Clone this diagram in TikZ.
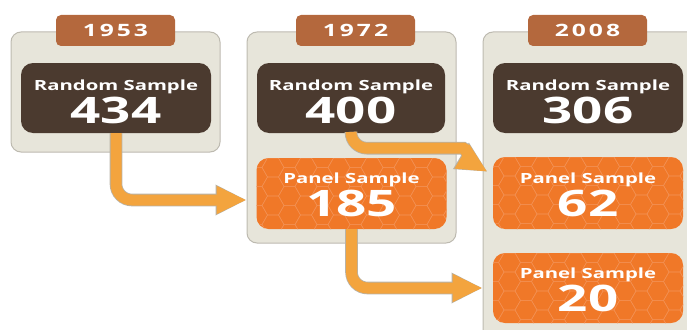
\documentclass[tikz,border=0pt]{standalone}
\usepackage{fontspec}
\setmainfont{Open Sans}
\usepackage{graphicx}
\usetikzlibrary{arrows.meta,calc}

\definecolor{eraback}{HTML}{E7E5DA}
\definecolor{eraline}{HTML}{BDBAB0}
\definecolor{yearcol}{HTML}{B4683D}
\definecolor{randcol}{HTML}{4B3A2F}
\definecolor{panelcol}{HTML}{F07828}
\definecolor{hexcol}{HTML}{F39052}
\definecolor{flowcol}{HTML}{F3A43E}
\definecolor{flowedge}{HTML}{B8B2A6}

\newcommand{\wide}[1]{\scalebox{1.45}[1]{#1}}
\newcommand{\lowered}[2]{\raisebox{-#1}[\height][\depth]{#2}}
\newcommand{\boxtext}[3][3.5pt]{\wide{\lowered{#1}{\fontsize{14}{14}\selectfont #2}}\\[2pt]\wide{\lowered{#1}{\fontsize{36.5}{36.5}\selectfont #3}}}

\begin{document}
\begin{tikzpicture}[x=1pt,y=-1pt,
	era/.style={draw=eraline,fill=eraback,line width=1pt,rounded corners=10pt,inner sep=0pt},
	yeartab/.style={fill=yearcol,rounded corners=5pt,minimum width=119pt,minimum height=31pt,inner sep=0pt,text=white,font=\bfseries\fontsize{17}{17}\selectfont\addfontfeature{LetterSpace=12}},
	randbox/.style={fill=randcol,rounded corners=12pt,minimum width=190pt,minimum height=70pt,inner sep=0pt,text=white,align=center,font=\bfseries},
	panelbox/.style={randbox,fill=panelcol,path picture={
		\coordinate (hw) at (path picture bounding box.north west);
		\foreach \i in {0,...,12} \foreach \j in {-1,...,4} {
			\pgfmathsetmacro{\hx}{\i*16.5}
			\pgfmathsetmacro{\hy}{\j*19+mod(\i,2)*9.5}
			\draw[hexcol,line width=0.5pt,sharp corners] ($(hw)+(\hx,\hy)$)
				+(0:11pt) -- +(60:11pt) -- +(120:11pt) -- +(180:11pt) -- +(240:11pt) -- +(300:11pt) -- cycle;
		}
	}},
	flow/.style={draw=flowcol,line width=11pt,rounded corners=16pt,-{Triangle[length=30pt,width=26pt]},
		preaction={draw=flowedge,line width=12.6pt,-{Triangle[length=31pt,width=28.5pt]}}}]
	\useasboundingbox (0,0) rectangle (687,329);
	\clip (0,0) rectangle (687,329);

	\node[era,minimum width=209pt,minimum height=120pt] (c1) at (115.5,92) {};
	\node[era,minimum width=209pt,minimum height=211pt] (c2) at (351.5,137.5) {};
	\node[era,minimum width=217pt,minimum height=313pt] (c3) at (591.5,188.5) {};

	\node[yeartab] (y1) at (115.5,30.5) {\wide{1953}};
	\node[yeartab] (y2) at (355.5,30.5) {\wide{1972}};
	\node[yeartab] (y3) at (587.5,30.5) {\wide{2008}};

	\node[randbox] (r1) at (116,98) {\boxtext{Random Sample}{434}};
	\node[randbox,minimum width=188pt] (r2) at (351,98) {\boxtext{Random Sample}{400}};
	\node[randbox] (r3) at (588,98) {\boxtext{Random Sample}{306}};

	\node[panelbox,minimum height=71pt] (p2) at (351.5,193.5) {\boxtext[1.5pt]{Panel Sample}{185}};
	\node[panelbox,minimum height=72pt] (p3) at (588,193) {\boxtext[1.5pt]{Panel Sample}{62}};
	\node[panelbox] (p4) at (588,288) {\boxtext[1.5pt]{Panel Sample}{20}};

	\draw[flow] (r1.south) |- ($(c2.west |- p2.west)+(0,6.5)$);
	\draw[flow] (r2.south) |- ($(c3.west |- r2.south)+(-35,15)$) .. controls +(18,0) and +(-15,-9) .. ($(c3.west |- p3.north)+(5,15)$);
	\draw[flow] (p2.south) |- (c3.west |- p4.west);
\end{tikzpicture}
\end{document}
